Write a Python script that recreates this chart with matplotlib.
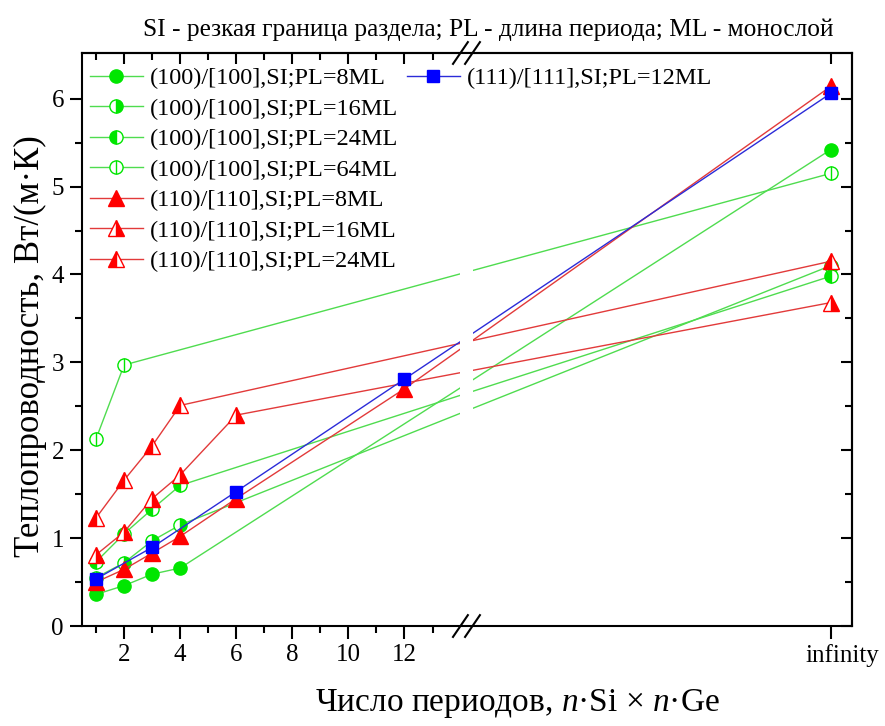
import numpy as np
import matplotlib.pyplot as plt
from matplotlib.transforms import blended_transform_factory, ScaledTranslation

plt.rcParams['font.family'] = ['Liberation Serif', 'DejaVu Serif']
plt.rcParams['mathtext.fontset'] = 'custom'
plt.rcParams['mathtext.it'] = 'Liberation Serif:italic'
plt.rcParams['mathtext.rm'] = 'Liberation Serif'

INF = np.inf

# число периодов (INF = объёмный материал) и теплопроводность, Вт/(м·К)
x_100_8 = [1, 2, 3, 4, INF]
y_100_8 = [0.36, 0.46, 0.59, 0.66, 5.42]
x_100_16 = [1, 2, 3, 4, INF]
y_100_16 = [0.55, 0.72, 0.97, 1.15, 4.10]
x_100_24 = [1, 2, 3, 4, INF]
y_100_24 = [0.73, 1.05, 1.33, 1.60, 3.98]
x_100_64 = [1, 2, INF]
y_100_64 = [2.13, 2.97, 5.15]
x_110_8 = [1, 2, 3, 4, 6, 12, INF]
y_110_8 = [0.50, 0.645, 0.83, 1.02, 1.45, 2.70, 6.14]
x_110_16 = [1, 2, 3, 4, 6, INF]
y_110_16 = [0.81, 1.07, 1.45, 1.72, 2.40, 3.68]
x_110_24 = [1, 2, 3, 4, INF]
y_110_24 = [1.23, 1.66, 2.05, 2.51, 4.15]
x_111_12 = [1, 3, 6, 12, INF]
y_111_12 = [0.535, 0.895, 1.53, 2.81, 6.06]

x_ticks = [2, 4, 6, 8, 10, 12]

# положение "infinity" на оси после разрыва
X_INF = 27.2
BREAK = (13.98, 14.45)


def pos(xs):
    return [X_INF if x == INF else x for x in xs]


GL, GM = '#4fdc4f', '#00e600'
RL, RM = '#e23a3a', '#ff0000'
BL, BM = '#2b2bd8', '#0000ff'

fig = plt.figure(figsize=(8.85, 7.26), dpi=100)
ax = fig.add_axes([0.0927, 0.1377, 0.8697, 0.7893])

kw = dict(lw=1.0, zorder=2)
h1, = ax.plot(pos(x_100_8), y_100_8, color=GL, marker='o', ms=9.5, mfc=GM, mec=GM, **kw)
h2, = ax.plot(pos(x_100_16), y_100_16, color=GL, marker='o', ms=9.5, mfc=GM, mec=GM,
              fillstyle='right', mfcalt='white', **kw)
h3, = ax.plot(pos(x_100_24), y_100_24, color=GL, marker='o', ms=9.5, mfc=GM, mec=GM,
              fillstyle='left', mfcalt='white', **kw)
h4, = ax.plot(pos(x_100_64), y_100_64, color=GL, marker='o', ms=9.5, mfc='white', mec=GM, **kw)
h4b, = ax.plot(pos(x_100_64), y_100_64, ls='none', marker='|', ms=9.5, mec=GM, mew=1.0, zorder=2)
h5, = ax.plot(pos(x_110_8), y_110_8, color=RL, marker='^', ms=11, mfc=RM, mec=RM, **kw)
h6, = ax.plot(pos(x_110_16), y_110_16, color=RL, marker='^', ms=11, mfc=RM, mec=RM,
              fillstyle='right', mfcalt='white', **kw)
h7, = ax.plot(pos(x_110_24), y_110_24, color=RL, marker='^', ms=11, mfc=RM, mec=RM,
              fillstyle='left', mfcalt='white', **kw)
h8, = ax.plot(pos(x_111_12), y_111_12, color=BL, marker='s', ms=8.5, mfc=BM, mec=BM, **kw)

# разрыв оси
ax.axvspan(*BREAK, color='white', zorder=2.2, lw=0)
tr = blended_transform_factory(ax.transData, ax.transAxes)
for yy in (0, 1):
    for x0 in (13.73, 14.16):
        ax.plot([x0, x0 + 0.53], [yy - 0.019, yy + 0.019], color='k', lw=1.5,
                transform=tr, clip_on=False, zorder=3)

ax.set_xlim(0.5, 27.95)
ax.set_ylim(0, 6.52)

ax.set_xticks(x_ticks + [X_INF])
ax.set_xticklabels([str(t) for t in x_ticks] + ['infinity'])
ax.set_xticks(np.arange(1, 14, 2), minor=True)
ax.set_yticks(np.arange(0, 7, 1))
ax.set_yticks(np.arange(0.5, 6.5, 1), minor=True)
ax.tick_params(which='major', direction='out', length=9, width=1.5, labelsize=18, pad=4)
ax.tick_params(which='minor', direction='out', length=5, width=1.5)
inf_lab = ax.get_xticklabels()[-1]
inf_lab.set_transform(inf_lab.get_transform() + ScaledTranslation(0.12, 0, fig.dpi_scale_trans))

top = ax.secondary_xaxis('top')
top.set_xticks(x_ticks + [X_INF])
top.set_xticks(np.arange(1, 14, 2), minor=True)
top.tick_params(which='major', direction='in', length=8, width=1.5, labeltop=False)
top.tick_params(which='minor', direction='in', length=5, width=1.5)
right = ax.secondary_yaxis('right')
right.set_yticks(np.arange(0, 7, 1))
right.set_yticks(np.arange(0.5, 6.5, 1), minor=True)
right.tick_params(which='major', direction='in', length=8, width=1.5, labelright=False)
right.tick_params(which='minor', direction='in', length=5, width=1.5)
for s in list(ax.spines.values()) + [top.spines['top'], right.spines['right']]:
    s.set_linewidth(1.5)

ax.set_ylabel('Теплопроводность, Вт/(м·К)', fontsize=25)
ax.yaxis.set_label_coords(-0.045, 0.488)
ax.set_xlabel('Число периодов, $n$·Si × $n$·Ge', fontsize=24)
ax.xaxis.set_label_coords(0.565, -0.106)
fig.text(488 / 885, 1 - 30 / 726,
         'SI - резкая граница раздела; PL - длина периода; ML - монослой',
         fontsize=18.3, ha='center', va='center')

leg = ax.legend([h1, h2, h3, (h4, h4b), h5, h6, h7],
                ['(100)/[100],SI;PL=8ML', '(100)/[100],SI;PL=16ML',
                 '(100)/[100],SI;PL=24ML', '(100)/[100],SI;PL=64ML',
                 '(110)/[110],SI;PL=8ML', '(110)/[110],SI;PL=16ML',
                 '(110)/[110],SI;PL=24ML'],
                loc='upper left', bbox_to_anchor=(0.01, 0.975), frameon=False,
                fontsize=17.5, handlelength=2.18, handletextpad=0.29,
                labelspacing=0.35, borderpad=0, borderaxespad=0)
ax.add_artist(leg)
ax.legend([h8], ['(111)/[111],SI;PL=12ML'], loc='upper left',
          bbox_to_anchor=(0.422, 0.975), frameon=False, fontsize=17.5,
          handlelength=2.18, handletextpad=0.29, borderpad=0, borderaxespad=0)

plt.savefig('out.png', dpi=100)
